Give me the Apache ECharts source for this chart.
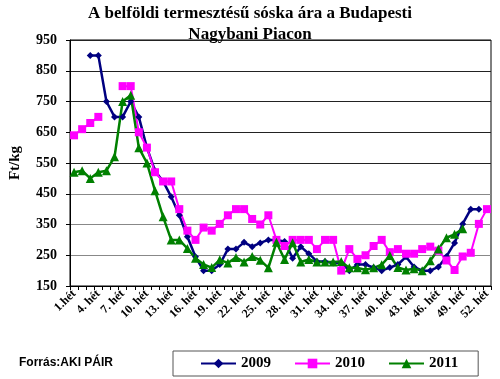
<!DOCTYPE html>
<html>
<head>
<meta charset="utf-8">
<script src="https://cdn.jsdelivr.net/npm/echarts@6/dist/echarts.min.js"></script>
<style>html,body{margin:0;padding:0;background:#fff}#c{width:500px;height:379px}</style>
</head>
<body>
<div id="c"></div>
<script>
const weeks = [];
for (let i = 1; i <= 52; i++) weeks.push(i === 1 ? '1.hét' : i + '. hét');

const yTicks = [150, 250, 350, 450, 550, 650, 750, 850, 950];

const s2009 = [null, null, 900, 900, 750, 700, 700, 750, 700, 600,
  525, 490, 440, 380, 310, 245, 200, 200, 220, 270,
  270, 292, 278, 290, 300, 300, 295, 240, 278, 255,
  230, 230, 225, 225, 200, 220, 220, 210, 200, 210,
  220, 245, 212, 200, 200, 212, 246, 290, 352, 400,
  400, null];

const s2010 = [640, 660, 680, 700, null, null, 800, 800, 650, 600,
  520, 490, 490, 400, 330, 300, 340, 330, 352, 380,
  400, 400, 368, 350, 380, 300, 280, 300, 300, 300,
  270, 300, 300, 200, 270, 238, 250, 280, 300, 260,
  270, 255, 255, 270, 278, 265, 233, 202, 246, 258,
  352, 400];

const s2011 = [520, 525, 500, 520, 525, 570, 750, 770, 600, 550,
  460, 375, 300, 300, 272, 240, 220, 210, 235, 225,
  243, 228, 246, 234, 209, 292, 236, 291, 228, 236,
  228, 228, 228, 230, 209, 209, 203, 209, 219, 249,
  210, 202, 206, 200, 232, 270, 307, 318, 336, null,
  null, null];

const seriesNames = ['2009', '2010', '2011'];

const chart = echarts.init(document.getElementById('c'));
const serif = '"Liberation Serif", "Times New Roman", serif';
chart.setOption({
  animation: false,
  backgroundColor: '#fff',
  title: {
    text: 'A belföldi termesztésű sóska ára a Budapesti\nNagybani Piacon',
    left: 'center',
    top: 3,
    padding: [0, 0, 0, 18],
    textStyle: { fontFamily: serif, fontWeight: 'bold', fontSize: 17, lineHeight: 21, color: '#000' }
  },
  grid: { left: 57, right: 9, top: 40, bottom: 93, show: true, borderColor: '#000', borderWidth: 1, containLabel: false },
  legend: {
    data: seriesNames,
    left: 173, top: 351,
    padding: [5, 20, 5, 27],
    itemGap: 23,
    itemWidth: 35, itemHeight: 12,
    borderColor: '#555', borderWidth: 1,
    textStyle: { fontFamily: serif, fontWeight: 'bold', fontSize: 15, color: '#000' }
  },
  graphic: [{
    type: 'text', left: 19, top: 357,
    style: { text: 'Forrás:AKI PÁIR', font: 'bold 12px "Liberation Sans", Arial, sans-serif', fill: '#000' }
  }],
  xAxis: {
    type: 'category',
    data: weeks,
    boundaryGap: true,
    axisLine: { lineStyle: { color: '#000', width: 1 } },
    axisTick: { show: true, interval: 0, length: 4, lineStyle: { color: '#000' } },
    axisLabel: { interval: 2, rotate: 45, margin: 6, fontFamily: serif, fontWeight: 'bold', fontSize: 12, color: '#000' },
    splitLine: { show: false }
  },
  yAxis: {
    type: 'value',
    min: yTicks[0], max: yTicks[yTicks.length - 1], interval: 100,
    name: 'Ft/kg', nameLocation: 'middle', nameGap: 47, nameRotate: 90,
    nameTextStyle: { fontFamily: serif, fontWeight: 'bold', fontSize: 15, color: '#000' },
    axisLine: { show: true, lineStyle: { color: '#000', width: 1 } },
    axisTick: { show: true, length: 4, lineStyle: { color: '#000' } },
    axisLabel: { margin: 13, fontFamily: serif, fontWeight: 'bold', fontSize: 14, color: '#000' },
    splitLine: { show: true, lineStyle: { color: ['#888', '#888', '#888', '#888', '#222', '#222', '#222', '#222', '#222'], width: 1 } }
  },
  series: [
    { name: '2009', type: 'line', data: s2009, connectNulls: false,
      symbol: 'diamond', symbolSize: 7, showSymbol: true, showAllSymbol: true,
      lineStyle: { color: '#000080', width: 2.5 }, itemStyle: { color: '#000080' } },
    { name: '2010', type: 'line', data: s2010, connectNulls: false,
      symbol: 'rect', symbolSize: 8, showSymbol: true, showAllSymbol: true,
      lineStyle: { color: '#ff00ff', width: 2 }, itemStyle: { color: '#ff00ff' } },
    { name: '2011', type: 'line', data: s2011, connectNulls: false,
      symbol: 'triangle', symbolSize: 9, showSymbol: true, showAllSymbol: true,
      lineStyle: { color: '#008000', width: 2.5 }, itemStyle: { color: '#008000' } }
  ]
});
</script>
</body>
</html>
